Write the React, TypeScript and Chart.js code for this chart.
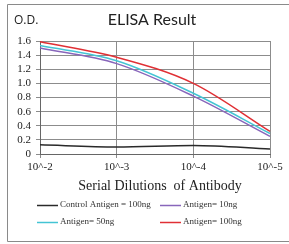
import React, { useEffect, useRef } from "react";
import { Chart, registerables } from "chart.js";

Chart.register(...registerables);

const categories = ["10^-2", "10^-3", "10^-4", "10^-5"];
const seriesNames = ["Control Antigen = 100ng", "Antigen= 10ng", "Antigen= 50ng", "Antigen= 100ng"];
const controlValues = [0.13, 0.1, 0.12, 0.07];
const antigen10Values = [1.5, 1.28, 0.82, 0.25];
const antigen50Values = [1.535, 1.32, 0.86, 0.29];
const antigen100Values = [1.59, 1.37, 1.0, 0.32];
const seriesColors = ["#2a2a2a", "#8866bb", "#44c4d4", "#e03035"];
const yTicks = [0, 0.2, 0.4, 0.6, 0.8, 1, 1.2, 1.4, 1.6];

const chartTitle = "ELISA Result";
const yTitle = "O.D.";
const xTitle = "Serial Dilutions  of Antibody";

export default function App() {
  const ref = useRef<HTMLCanvasElement>(null);
  useEffect(() => {
    document.body.style.margin = "0";
    const canvas = ref.current!;
    const decor = {
      id: "decor",
      afterDraw(chart: any) {
        const ctx = chart.ctx as CanvasRenderingContext2D;
        ctx.save();
        // frame
        ctx.strokeStyle = "#8a8a8a";
        ctx.lineWidth = 1;
        ctx.beginPath();
        ctx.moveTo(300, 4.5);
        ctx.lineTo(7.5, 4.5);
        ctx.lineTo(7.5, 241.5);
        ctx.lineTo(300, 241.5);
        ctx.stroke();
        // titles
        ctx.fillStyle = "#222";
        ctx.textBaseline = "middle";
        ctx.textAlign = "center";
        ctx.font = "16px Lato";
        ctx.fillText(chartTitle, 152, 20);
        ctx.textAlign = "left";
        ctx.font = "12px 'Open Sans'";
        ctx.fillText(yTitle, 14, 21);
        ctx.textAlign = "center";
        ctx.font = "14px 'Liberation Serif'";
        ctx.fillText(xTitle, 160, 186);
        // legend
        const pos = [
          [37, 205],
          [160, 205],
          [37, 222],
          [160, 222],
        ];
        ctx.font = "9px 'Liberation Serif'";
        ctx.textAlign = "left";
        seriesNames.forEach((name, i) => {
          const [x, y] = pos[i];
          ctx.strokeStyle = seriesColors[i];
          ctx.lineWidth = 1.5;
          ctx.beginPath();
          ctx.moveTo(x, y + 0.5);
          ctx.lineTo(x + 21, y + 0.5);
          ctx.stroke();
          ctx.fillStyle = "#333";
          ctx.fillText(name, x + 23, y);
        });
        ctx.restore();
      },
    };
    const allValues = [controlValues, antigen10Values, antigen50Values, antigen100Values];
    const chart = new Chart(canvas, {
      type: "line",
      data: {
        labels: categories,
        datasets: allValues.map((vals, i) => ({
          label: seriesNames[i],
          data: vals,
          borderColor: seriesColors[i],
          backgroundColor: seriesColors[i],
          borderWidth: 1.5,
          pointRadius: 0,
          cubicInterpolationMode: "monotone" as const,
          fill: false,
        })),
      },
      options: {
        animation: false,
        responsive: false,
        maintainAspectRatio: false,
        layout: { padding: { top: 41, right: 19, left: 0, bottom: 0 } },
        plugins: { legend: { display: false }, title: { display: false }, tooltip: { enabled: false } },
        scales: {
          x: {
            offset: false,
            afterFit: (s: any) => {
              s.height = 90;
            },
            grid: { color: "#8c8c8c", tickLength: 4, drawTicks: true },
            border: { color: "#666" },
            ticks: {
              color: "#222",
              font: { family: "'Liberation Serif'", size: 11 },
              padding: 3,
              maxRotation: 0,
              autoSkip: false,
            },
          },
          y: {
            min: 0,
            max: 1.6,
            afterFit: (s: any) => {
              s.width = 40;
            },
            afterBuildTicks: (s: any) => {
              s.ticks = yTicks.map((v) => ({ value: v }));
            },
            grid: { color: "#8c8c8c", tickLength: 4 },
            border: { color: "#666" },
            ticks: {
              color: "#222",
              font: { family: "'Liberation Serif'", size: 11 },
              padding: 5,
              autoSkip: false,
            },
          },
        },
      },
      plugins: [decor],
    });
    return () => chart.destroy();
  }, []);
  return (
    <div style={{ width: 289, height: 244 }}>
      <canvas ref={ref} width={289} height={244} style={{ display: "block" }} />
    </div>
  );
}
